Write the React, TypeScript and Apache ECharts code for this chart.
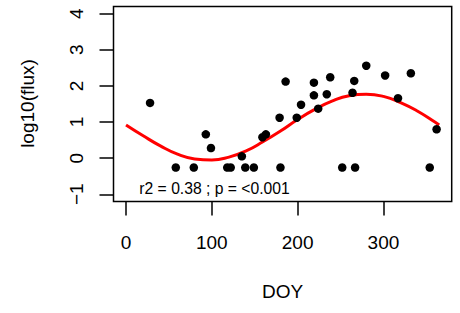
import React, { useEffect, useRef } from "react";
import * as echarts from "echarts";

// Observations: day of year (DOY) and log10(flux)
const doy = [28, 58, 79, 93, 99, 118, 122, 135, 139, 149, 159, 163, 179, 180, 186, 199, 204, 219, 219, 224, 234, 238, 252, 264, 266, 267, 280, 302, 317, 332, 354, 362];
const logFlux = [1.53, -0.26, -0.26, 0.66, 0.28, -0.26, -0.26, 0.05, -0.26, -0.26, 0.58, 0.66, 1.12, -0.26, 2.12, 1.12, 1.48, 2.09, 1.74, 1.37, 1.77, 2.24, -0.26, 1.81, 2.14, -0.26, 2.56, 2.29, 1.66, 2.35, -0.26, 0.8];

// Fitted seasonal curve
const fitDoy = [0, 20, 40, 60, 80, 100, 120, 140, 160, 180, 200, 220, 240, 260, 280, 300, 320, 340, 360, 365];
const fitVal = [0.92, 0.62, 0.34, 0.11, -0.02, -0.05, 0.03, 0.2, 0.46, 0.75, 1.07, 1.35, 1.58, 1.73, 1.77, 1.71, 1.54, 1.3, 1.0, 0.92];

const xTicks = [0, 100, 200, 300];
const yTicks = [-1, 0, 1, 2, 3, 4];

const xLabel = "DOY";
const yLabel = "log10(flux)";
const note = "r2 = 0.38 ; p = <0.001";

const FONT = "'Liberation Sans', Arial, Helvetica, sans-serif";

export default function App() {
  const ref = useRef<HTMLDivElement>(null);
  useEffect(() => {
    if (!ref.current) return;
    const chart = echarts.init(ref.current, undefined, { renderer: "svg" });
    chart.setOption({
      animation: false,
      backgroundColor: "#ffffff",
      textStyle: { fontFamily: FONT },
      grid: {
        left: 113.5,
        right: 8.3,
        top: 6.5,
        bottom: 111.5,
        show: true,
        borderColor: "#000",
        borderWidth: 1.5,
        backgroundColor: "transparent",
      },
      xAxis: {
        type: "value",
        min: -14.6,
        max: 379.6,
        splitLine: { show: false },
        axisLine: { show: false, onZero: false },
        axisTick: {
          show: true,
          customValues: xTicks,
          length: 14,
          lineStyle: { color: "#000", width: 1.5 },
        },
        axisLabel: {
          customValues: xTicks,
          color: "#000",
          fontSize: 19,
          fontFamily: FONT,
          margin: 31,
        },
      },
      yAxis: {
        type: "value",
        min: -1.2,
        max: 4.2,
        splitLine: { show: false },
        axisLine: { show: false, onZero: false },
        axisTick: {
          show: true,
          customValues: yTicks,
          length: 14,
          lineStyle: { color: "#000", width: 1.5 },
        },
        axisLabel: {
          customValues: yTicks,
          color: "#000",
          fontSize: 19,
          fontFamily: FONT,
          rotate: 90,
          margin: 28,
          formatter: (v: number) => (v < 0 ? "\u2212" + Math.abs(v) : String(v)),
        },
      },
      graphic: [
        {
          type: "text",
          x: 282.6,
          y: 291.7,
          style: {
            text: xLabel,
            fontSize: 19,
            fontFamily: FONT,
            fill: "#000",
            textAlign: "center",
            textVerticalAlign: "middle",
          },
        },
        {
          type: "text",
          x: 27,
          y: 103.5,
          rotation: Math.PI / 2,
          style: {
            text: yLabel,
            fontSize: 19,
            fontFamily: FONT,
            fill: "#000",
            textAlign: "center",
            textVerticalAlign: "middle",
          },
        },
        {
          type: "text",
          x: 139.3,
          y: 188.3,
          style: {
            text: note,
            fontSize: 15.7,
            fontFamily: FONT,
            fill: "#000",
            textAlign: "left",
            textVerticalAlign: "middle",
          },
        },
      ],
      series: [
        {
          type: "line",
          data: fitDoy.map((d, i) => [d, fitVal[i]]),
          smooth: true,
          showSymbol: false,
          symbol: "none",
          lineStyle: { color: "#ff0000", width: 3 },
          z: 2,
        },
        {
          type: "scatter",
          data: doy.map((d, i) => [d, logFlux[i]]),
          symbol: "circle",
          symbolSize: 8.5,
          itemStyle: { color: "#000", opacity: 1 },
          z: 3,
        },
      ],
    });
    return () => chart.dispose();
  }, []);
  return (
    <div
      ref={ref}
      style={{ position: "fixed", left: 0, top: 0, width: 460, height: 313, background: "#fff" }}
    />
  );
}
